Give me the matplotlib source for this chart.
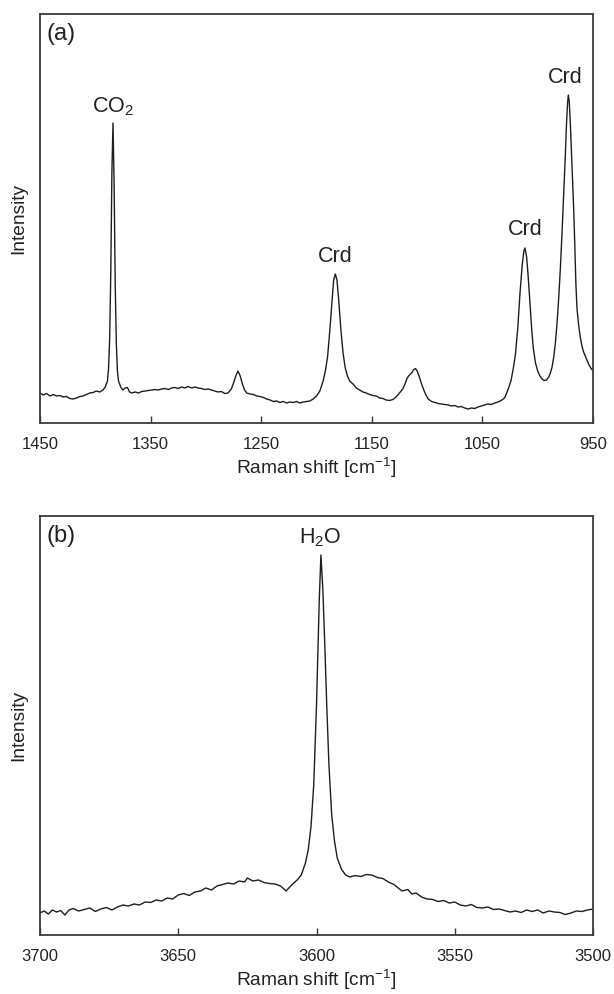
import matplotlib
matplotlib.use("Agg")
from matplotlib import pyplot as plt

plt.rcParams['font.family'] = ['Liberation Sans', 'DejaVu Sans']
plt.rcParams['mathtext.fontset'] = 'custom'
plt.rcParams['mathtext.rm'] = 'Liberation Sans'
plt.rcParams['mathtext.it'] = 'Liberation Sans'

# panel (a): Raman shift (cm-1) and intensity (arbitrary units)
shift_a = [1450, 1447, 1444, 1441, 1438, 1435, 1432, 1429, 1426, 1423, 1420, 1417, 1414, 1411,
           1408, 1405, 1402, 1399, 1396, 1393, 1391, 1389, 1388, 1387, 1386, 1385, 1384, 1383,
           1382, 1381, 1380, 1379, 1377, 1375, 1373, 1371, 1369, 1367, 1364, 1361, 1358, 1355,
           1352, 1349, 1346, 1343, 1340, 1337, 1334, 1331, 1328, 1325, 1322, 1319, 1316, 1313,
           1310, 1307, 1304, 1301, 1298, 1295, 1292, 1289, 1286, 1283, 1280, 1277, 1275, 1273,
           1271, 1269, 1267, 1265, 1263, 1260, 1257, 1254, 1251, 1248, 1245, 1242, 1239, 1236,
           1233, 1230, 1227, 1224, 1221, 1218, 1215, 1212, 1209, 1206, 1203, 1200, 1197, 1194,
           1192, 1190, 1188, 1186, 1184.5, 1183, 1181.5, 1180, 1178, 1176, 1174, 1172, 1170,
           1167, 1164, 1161, 1158, 1155, 1152, 1149, 1146, 1143, 1140, 1137, 1134, 1131, 1128,
           1125, 1122, 1120, 1118, 1116, 1114, 1112, 1110.5, 1109, 1107, 1105, 1103, 1101, 1099,
           1096, 1093, 1090, 1087, 1084, 1081, 1078, 1075, 1072, 1069, 1066, 1063, 1060, 1057,
           1054, 1051, 1048, 1045, 1042, 1039, 1036, 1033, 1030, 1028, 1026, 1024, 1022, 1020,
           1018, 1016, 1014, 1012.5, 1011.5, 1010, 1008.5, 1007, 1005.5, 1004, 1002, 1000, 998,
           996, 994, 992, 990, 988.5, 987, 985.5, 984, 982.5, 981, 979.5, 978, 976.5, 975, 974,
           973, 972.3, 971.5, 970.5, 969.5, 968.5, 967.5, 966.5, 965.5, 964.5, 963, 961.5, 960,
           958.5, 957, 955.5, 954, 952, 950]
int_a = [30, 28, 29.5, 27, 28.5, 27, 27.5, 26, 26.5, 24.5, 24, 25, 26.5, 27,
         28.5, 30, 30.5, 32, 31, 33, 36, 42, 55, 85, 150, 250, 300, 240,
         140, 80, 52, 42, 36, 33, 35, 35.5, 31, 30, 31, 30, 31.5, 32,
         32.5, 33, 33.5, 33, 34, 34.5, 33.5, 35, 35.5, 34.5, 36, 35, 36.5, 35,
         36, 35, 34.5, 33.5, 34, 33, 32, 31, 31.5, 29.5, 30, 34, 40, 47,
         52, 47, 39, 33, 30, 29, 28.5, 27, 26.5, 25.5, 24, 23, 21.5, 22,
         20.5, 21.5, 20, 21, 20.5, 21.5, 20, 21, 21.5, 22, 24, 27, 32, 42,
         52, 66, 92, 122, 143, 149, 143, 124, 94, 70, 55, 47, 42,
         39, 35, 33, 31, 30, 28.5, 27.5, 27, 25, 24.5, 23, 22.5, 23.5, 26,
         30, 34, 39, 45, 48, 50, 53.5, 54.5, 52, 46, 39, 33, 28, 24,
         21.5, 20.5, 19.5, 19, 18.5, 18, 17, 17.5, 16, 16.5, 15, 14, 15, 14.5,
         16, 17, 18, 19, 18.5, 20, 21, 22.5, 25, 30, 36, 43, 55, 70,
         95, 130, 158, 172, 175, 166, 145, 120, 95, 75, 60, 52, 47,
         44, 42.5, 43, 46, 50, 56, 66, 80, 100, 125, 155, 190, 228, 268, 298,
         320, 328, 322, 300, 272, 245, 215, 180, 140, 115, 98, 86, 77,
         71, 67, 63, 59, 55, 52]

# panel (b)
shift_b = [3700, 3698.5, 3697, 3695.5, 3694, 3692.5, 3691, 3689.5, 3688, 3686, 3684, 3682, 3680,
           3678, 3676, 3674, 3672, 3670, 3668, 3666, 3664, 3662, 3660, 3658, 3656, 3654, 3652,
           3650, 3648, 3646, 3644, 3642, 3640, 3638, 3636, 3634, 3632, 3630, 3628, 3626, 3625,
           3623, 3621, 3619, 3617, 3615, 3613, 3611, 3609, 3607, 3605.5, 3604, 3603, 3602, 3601,
           3600, 3599, 3598.4, 3597.7, 3597, 3596.3, 3595.5, 3594.5, 3593.5, 3592.5, 3591,
           3589.5, 3588, 3586, 3584, 3582, 3580, 3578, 3576, 3574, 3572, 3570, 3569, 3567,
           3565.5, 3564, 3562, 3560, 3558, 3556, 3554, 3552, 3550, 3548, 3546, 3544, 3542, 3540,
           3538, 3536, 3534, 3532, 3530, 3528, 3526, 3524, 3522, 3520, 3518, 3516, 3514, 3512,
           3510, 3508, 3506, 3504, 3502, 3500]
int_b = [22, 24, 21, 25, 23, 24.5, 20, 25, 26.5, 24, 25.5, 27, 23.5,
         26, 27.5, 25, 28, 30, 29, 31, 30, 33, 32.5, 35, 34, 37, 36,
         40, 41.5, 39.5, 43, 44, 47, 45, 49, 50.5, 52, 51, 54, 53, 57,
         54, 55, 52.5, 51.5, 51, 49, 44, 50, 55, 60, 72, 85, 108, 150,
         230, 335, 380, 345, 290, 230, 170, 120, 94, 77, 66,
         60, 58, 59.5, 58.5, 60.5, 60, 57.5, 56.5, 53, 50.5, 46, 44, 45.5,
         41, 42, 38, 36, 35.5, 33.5, 34.5, 32, 33, 30, 29, 30.5, 27.5, 27,
         28, 25.5, 26, 24.5, 23, 24, 22.5, 25, 23.5, 25, 22, 24, 23, 22.5,
         20.5, 22, 24, 23.5, 25, 26]

ticks_a = [1450, 1350, 1250, 1150, 1050, 950]
ticks_b = [3700, 3650, 3600, 3550, 3500]

peaks_a = [(1384, 'CO$_{\\mathregular{2}}$', 305), (1183, 'Crd', 156),
           (1011.5, 'Crd', 183), (975, 'Crd', 335)]

line_col = '#1e1e1e'
spine_col = '#3c3c3c'
text_col = '#222222'

fig = plt.figure(figsize=(6.14, 9.94), dpi=100)
ax1 = fig.add_axes([40 / 614, 1 - 423 / 994, 553 / 614, 409 / 994])
ax2 = fig.add_axes([40 / 614, 1 - 935 / 994, 553 / 614, 419 / 994])

ax1.plot(shift_a, int_a, color=line_col, lw=1.0)
ax2.plot(shift_b, int_b, color=line_col, lw=1.0)

ax1.set_xlim(1450, 950)
ax1.set_ylim(0, 409)
ax2.set_xlim(3700, 3500)
ax2.set_ylim(0, 419)
ax1.set_xticks(ticks_a)
ax2.set_xticks(ticks_b)

for ax in (ax1, ax2):
    ax.set_yticks([])
    ax.tick_params(axis='x', direction='in', length=5, width=1.0, color=spine_col,
                   labelsize=12, labelcolor=text_col, pad=10)
    for s in ax.spines.values():
        s.set_color(spine_col)
        s.set_linewidth(1.3)
    ax.set_xlabel('Raman shift [cm$^{\\mathregular{-1}}$]', fontsize=13.8, color=text_col, labelpad=3)
    ax.set_ylabel('Intensity', fontsize=13.8, color=text_col, labelpad=9)

for x, lab, y in peaks_a:
    ax1.text(x, y, lab, ha='center', va='bottom', fontsize=15.5, color=text_col)
ax2.text(3598.7, 386, 'H$_{\\mathregular{2}}$O', ha='center', va='bottom', fontsize=15.5, color=text_col)

ax1.text(0.012, 0.978, '(a)', transform=ax1.transAxes, ha='left', va='top', fontsize=17, color=text_col)
ax2.text(0.012, 0.979, '(b)', transform=ax2.transAxes, ha='left', va='top', fontsize=17, color=text_col)

fig.savefig('out.png', dpi=100)
